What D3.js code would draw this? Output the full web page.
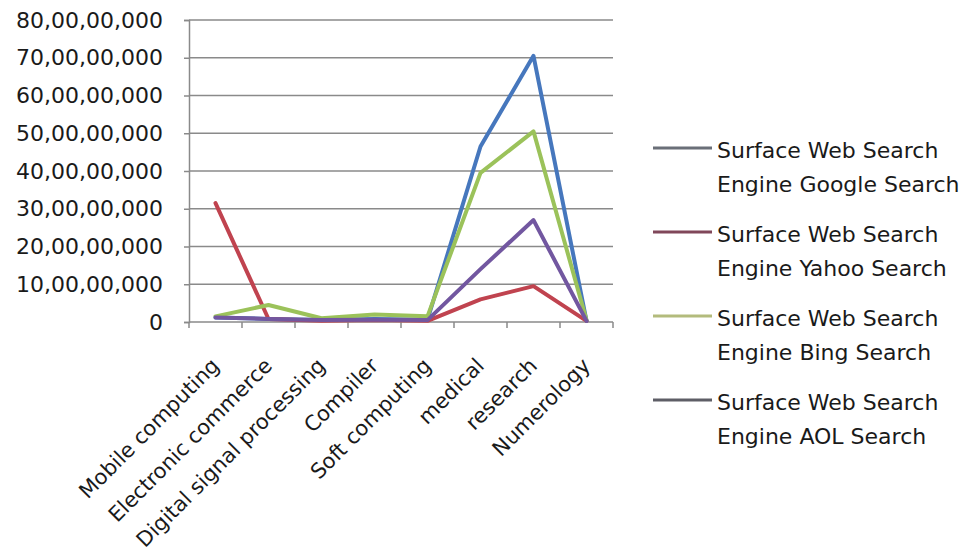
<!DOCTYPE html>
<html>
<head>
<meta charset="utf-8">
<script src="https://cdn.jsdelivr.net/npm/d3@7"></script>
<style>
  html, body { margin: 0; padding: 0; background: #fff; }
  svg { display: block; }
  text { font-family: "DejaVu Sans", sans-serif; fill: #1a1a1a; }
</style>
</head>
<body>
<svg id="chart" width="966" height="559"></svg>
<script>
// Topics searched
const categories = [
  "Mobile computing", "Electronic commerce", "Digital signal processing",
  "Compiler", "Soft computing", "medical", "research", "Numerology"
];

// Number of results returned by each search engine
const googleResults = [12000000, 8000000, 5000000, 8000000, 6000000, 465000000, 705000000, 3000000];
const yahooResults  = [315000000, 8000000, 3000000, 5000000, 3000000, 60000000, 95000000, 3000000];
const bingResults   = [15000000, 45000000, 10000000, 20000000, 15000000, 395000000, 505000000, 5000000];
const aolResults    = [12000000, 8000000, 5000000, 6000000, 5000000, 140000000, 270000000, 3000000];

const seriesNames = [
  "Surface Web Search Engine Google Search",
  "Surface Web Search Engine Yahoo Search",
  "Surface Web Search Engine Bing Search",
  "Surface Web Search Engine AOL Search"
];
const lineColors   = ["#4677bd", "#c0434f", "#9bc25a", "#7257a0"];
const legendColors = ["#6a6f78", "#80475a", "#b3bb7c", "#5e5e66"];

const yTicks = [0, 100000000, 200000000, 300000000, 400000000, 500000000, 600000000, 700000000, 800000000];

const series = [googleResults, yahooResults, bingResults, aolResults];

// Indian digit grouping: 80,00,00,000
function indianFormat(v) {
  if (v === 0) return "0";
  const s = String(Math.round(v));
  if (s.length <= 3) return s;
  const last3 = s.slice(-3);
  const rest = s.slice(0, -3).replace(/\B(?=(\d{2})+(?!\d))/g, ",");
  return rest + "," + last3;
}

const svg = d3.select("#chart");
const plot = { left: 189, right: 613, top: 20, bottom: 322 };

const x = d3.scaleBand().domain(categories).range([plot.left, plot.right]).paddingInner(0).paddingOuter(0);
const y = d3.scaleLinear().domain([0, 800000000]).range([plot.bottom, plot.top]);

// Horizontal gridlines
svg.append("g")
  .selectAll("line")
  .data(yTicks.filter(d => d > 0))
  .join("line")
  .attr("x1", plot.left).attr("x2", plot.right)
  .attr("y1", d => y(d)).attr("y2", d => y(d))
  .attr("stroke", "#8a8a8a").attr("stroke-width", 1.5);

// Y axis
const yAxis = svg.append("g")
  .attr("transform", `translate(${plot.left},0)`)
  .call(d3.axisLeft(y).tickValues(yTicks).tickFormat(indianFormat).tickSize(5).tickPadding(21));
yAxis.select(".domain").attr("stroke", "#8a8a8a").attr("stroke-width", 1.5);
yAxis.selectAll(".tick line").attr("stroke", "#8a8a8a").attr("stroke-width", 1.5);
yAxis.selectAll(".tick text")
  .style("font-family", "'DejaVu Sans', sans-serif")
  .style("font-size", "22px")
  .attr("fill", "#1a1a1a");

// X axis baseline and category boundary ticks
svg.append("line")
  .attr("x1", plot.left).attr("x2", plot.right)
  .attr("y1", plot.bottom).attr("y2", plot.bottom)
  .attr("stroke", "#8a8a8a").attr("stroke-width", 1.5);
const boundaries = categories.map(c => x(c)).concat([plot.right]);
svg.append("g")
  .selectAll("line")
  .data(boundaries)
  .join("line")
  .attr("x1", d => d).attr("x2", d => d)
  .attr("y1", plot.bottom).attr("y2", plot.bottom + 6)
  .attr("stroke", "#8a8a8a").attr("stroke-width", 1.5);

// Rotated category labels
svg.append("g")
  .selectAll("text")
  .data(categories)
  .join("text")
  .attr("transform", d => `translate(${x(d) + x.bandwidth() / 2 + 5},${plot.bottom + 45}) rotate(-45)`)
  .attr("text-anchor", "end")
  .style("font-size", "21px")
  .text(d => d);

// Series lines
const line = d3.line()
  .x((d, i) => x(categories[i]) + x.bandwidth() / 2)
  .y(d => y(d));

svg.append("g")
  .selectAll("path")
  .data(series)
  .join("path")
  .attr("d", d => line(d))
  .attr("fill", "none")
  .attr("stroke", (d, i) => lineColors[i])
  .attr("stroke-width", 4)
  .attr("stroke-linejoin", "round")
  .attr("stroke-linecap", "round");

// Legend
const legend = svg.append("g").attr("transform", "translate(653,0)");
const items = legend.selectAll("g")
  .data(seriesNames)
  .join("g")
  .attr("transform", (d, i) => `translate(0,${158 + i * 84})`);
items.append("line")
  .attr("x1", 0).attr("x2", 59)
  .attr("y1", -10).attr("y2", -10)
  .attr("stroke", (d, i) => legendColors[i])
  .attr("stroke-width", 3);
items.each(function (d) {
  const words = d.split(" ");
  const first = words.slice(0, 3).join(" ");
  const second = words.slice(3).join(" ");
  const t = d3.select(this).append("text").attr("x", 64).style("font-size", "22px");
  t.append("tspan").attr("x", 64).attr("dy", 0).text(first);
  t.append("tspan").attr("x", 64).attr("dy", 34).text(second);
});
</script>
</body>
</html>
